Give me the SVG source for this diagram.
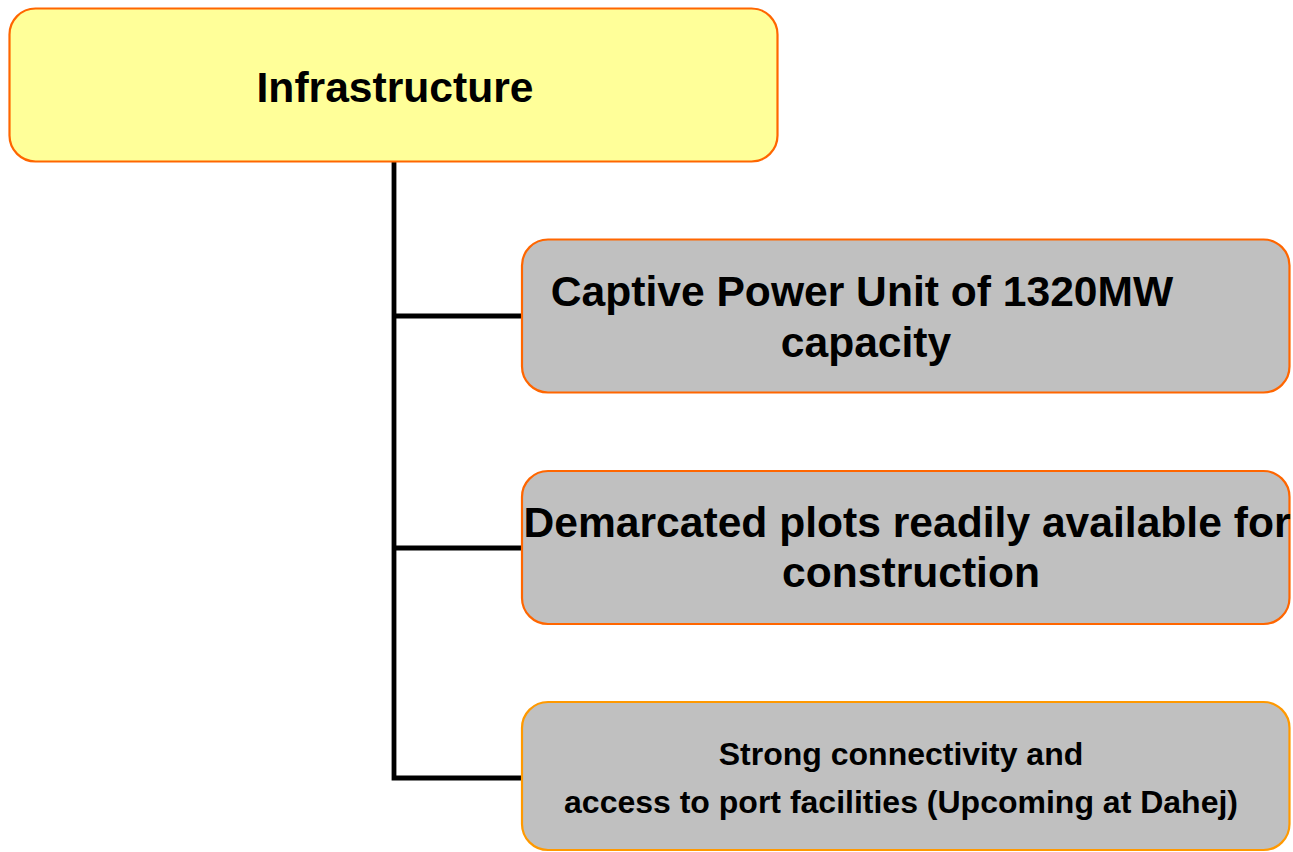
<svg xmlns="http://www.w3.org/2000/svg" width="1293" height="852" viewBox="0 0 1293 852">
<style>
.box{stroke-width:2.2}
.top{fill:#ffff99;stroke:#ff6600}
.gray{fill:#c0c0c0;stroke:#ff6600}
.gray2{fill:#c0c0c0;stroke:#ff9900}
text{font-family:"Liberation Sans",Arial,sans-serif;font-weight:bold;fill:#000;text-anchor:middle}
.big{font-size:42.6px}
.small{font-size:32px}
.conn{fill:none;stroke:#000;stroke-width:4.8}
</style>
<rect width="1293" height="852" fill="#fff"/>
<g id="connectors">
<path class="conn" d="M394,162 V778 H522"/>
<path class="conn" d="M394,316 H522"/>
<path class="conn" d="M394,548 H522"/>
</g>
<g id="infrastructure">
<rect class="box top" x="9.5" y="8.5" width="768" height="153" rx="26"/>
<text class="big" x="395" y="102">Infrastructure</text>
</g>
<g id="captive-power">
<rect class="box gray" x="522" y="239.5" width="767.5" height="153" rx="26"/>
<text class="big" x="862" y="306">Captive Power Unit of 1320MW</text>
<text class="big" x="866" y="357">capacity</text>
</g>
<g id="demarcated-plots">
<rect class="box gray" x="522" y="471" width="767.5" height="153" rx="26"/>
<text class="big" x="907" y="537">Demarcated plots readily available for</text>
<text class="big" x="911" y="587">construction</text>
</g>
<g id="connectivity">
<rect class="box gray2" x="522" y="702" width="767.5" height="148" rx="26"/>
<text class="small" x="901" y="765">Strong connectivity and</text>
<text class="small" x="901" y="813">access to port facilities (Upcoming at Dahej)</text>
</g>
</svg>
